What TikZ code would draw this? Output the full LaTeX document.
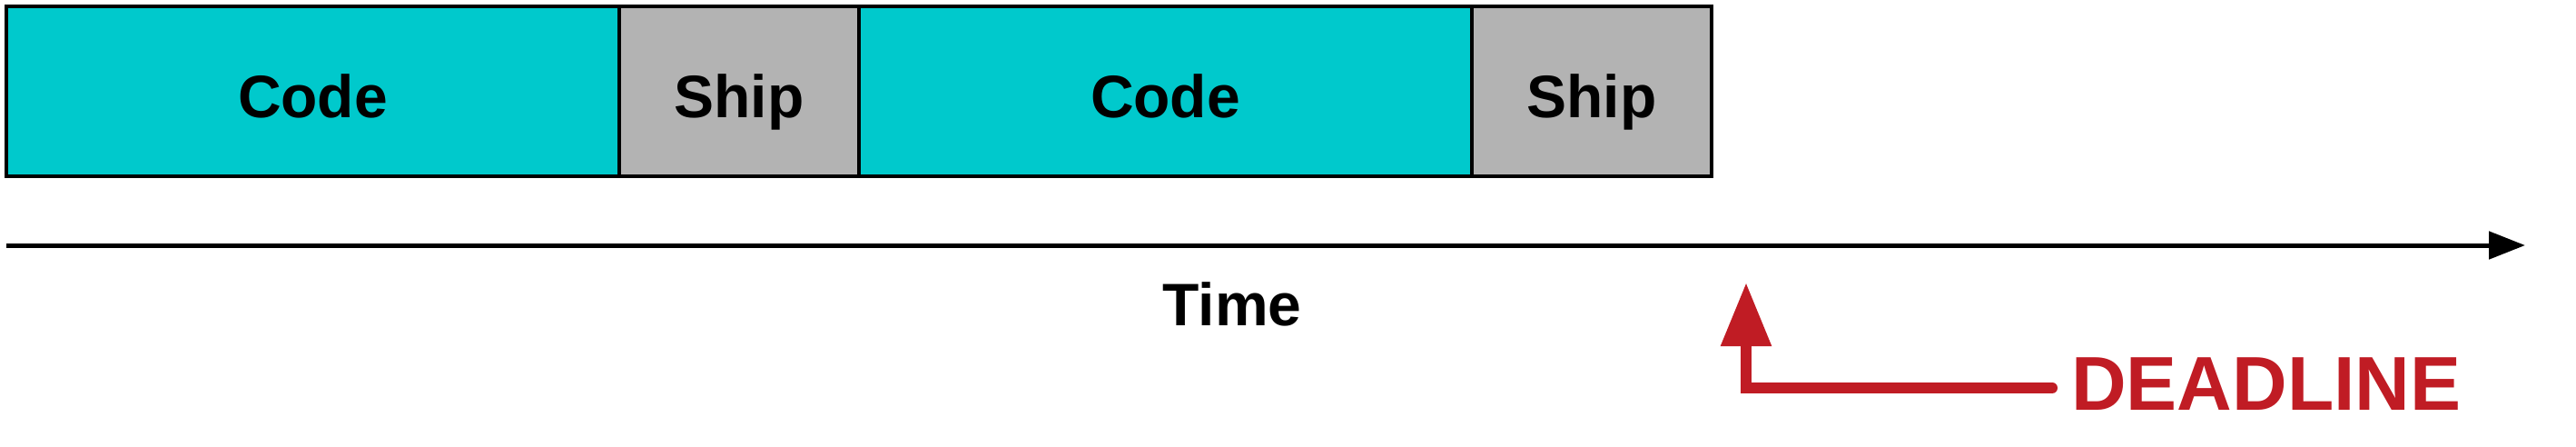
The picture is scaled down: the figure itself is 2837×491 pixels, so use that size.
\documentclass[tikz,border=0pt]{standalone}
\usepackage{fontspec}
\setmainfont{Liberation Sans}
\usetikzlibrary{arrows.meta}
\definecolor{codecyan}{RGB}{0,201,204}
\definecolor{shipgray}{RGB}{179,179,179}
\definecolor{deadred}{RGB}{192,28,36}
\begin{document}
\begin{tikzpicture}[x=1pt,y=1pt,
  phase/.style={draw=black,line width=3.5pt,inner sep=0pt,outer sep=0pt,
    minimum height=187pt,text height=57pt,text depth=0pt,
    font=\fontsize{66}{72}\selectfont\bfseries},
  codebox/.style={phase,fill=codecyan,minimum width=675pt},
  shipbox/.style={phase,fill=shipgray,minimum width=264pt},
  axis/.style={line width=5pt,-{Triangle[length=40pt,width=30pt]}},
  deadarrow/.style={draw=deadred,line width=12pt,line cap=round,line join=miter,
    -{Triangle[length=70pt,width=53pt]}}]
\useasboundingbox (0,0) rectangle (2837,-491);
\node[codebox] (code1) at (344.5,-100.5) {Code};
\node[shipbox] (ship1) at (814,-100.5) {Ship};
\node[codebox] (code2) at (1283.5,-100.5) {Code};
\node[shipbox] (ship2) at (1753,-100.5) {Ship};
\coordinate (ts) at (7,-270);
\coordinate (te) at (2781,-270);
\draw[axis] (ts) -- (te);
\node[anchor=base,inner sep=0pt,font=\fontsize{66}{72}\selectfont\bfseries] (time) at (1357,-358) {Time};
\node[anchor=base west,inner sep=0pt,text=deadred,font=\fontsize{84}{92}\selectfont\bfseries] (dl) at (2281,-451) {DEADLINE};
\coordinate (dlend) at (2260,-427);
\coordinate (corner) at (1923,-427);
\coordinate (dtip) at (1923,-311);
\draw[deadarrow] (dlend) -- (corner) -- (dtip);
\end{tikzpicture}
\end{document}
